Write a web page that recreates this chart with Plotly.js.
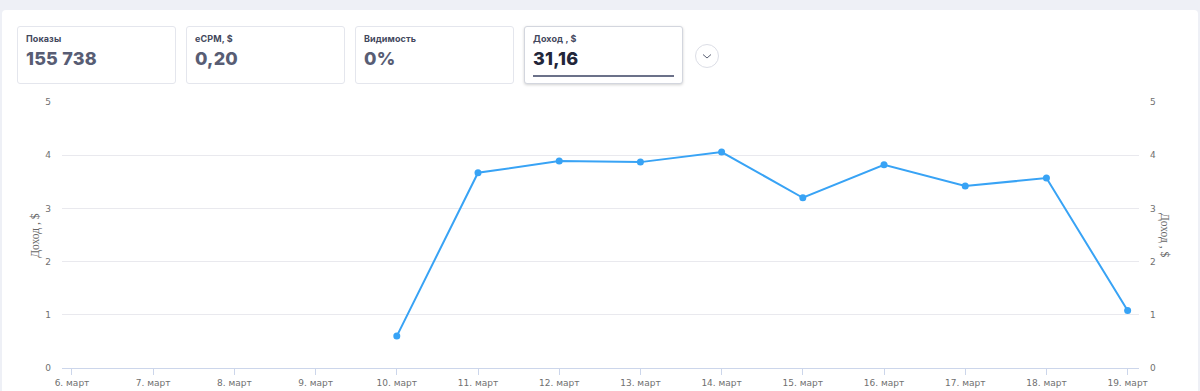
<!DOCTYPE html>
<html>
<head>
<meta charset="utf-8">
<script src="https://cdn.plot.ly/plotly-3.0.1.min.js"></script>
<style>
html,body{margin:0;padding:0;width:1200px;height:391px;overflow:hidden;background:#eef0f6;font-family:Inter,"Open Sans",sans-serif;}
#panel{position:absolute;left:2px;top:10px;width:1196px;height:400px;background:#fff;border-radius:4px;}
.card{position:absolute;top:26px;width:157px;height:56px;border:1px solid #e4e6ed;border-radius:3px;background:#fff;box-sizing:content-box;}
.card .lab{position:absolute;left:8px;top:6px;font-size:9px;font-weight:700;color:#43485d;letter-spacing:0.1px;}
.card .val{position:absolute;left:8px;top:21px;font-size:18px;font-weight:800;color:#585d74;letter-spacing:0.2px;}
.card.active{border-color:#d3d6de;box-shadow:0 1px 3px rgba(0,0,0,0.18);}
.card.active .val{color:#22263a;}
.card.active .line{position:absolute;left:8px;right:8px;top:48px;height:2px;background:#6b7189;}
#btn{position:absolute;left:695px;top:44px;width:22px;height:22px;border:1px solid #dcdee6;border-radius:50%;background:#fff;}
#plot{position:absolute;left:0;top:0;width:1200px;height:391px;}
</style>
</head>
<body>
<div id="panel"></div>
<div class="card" style="left:17px"><div class="lab">Показы</div><div class="val">155 738</div></div>
<div class="card" style="left:186px"><div class="lab">eCPM, $</div><div class="val">0,20</div></div>
<div class="card" style="left:355px"><div class="lab">Видимость</div><div class="val">0%</div></div>
<div class="card active" style="left:524px"><div class="lab">Доход , $</div><div class="val">31,16</div><div class="line"></div></div>
<div id="btn"><svg width="22" height="22" viewBox="0 0 22 22"><polyline points="7,9.5 11,13 15,9.5" fill="none" stroke="#5a6073" stroke-width="1"/></svg></div>
<div id="plot"></div>
<script>
const days = [10, 11, 12, 13, 14, 15, 16, 17, 18, 19];
const revenue = [0.60, 3.67, 3.89, 3.87, 4.06, 3.20, 3.82, 3.42, 3.57, 1.08];
const tickDays = [6, 7, 8, 9, 10, 11, 12, 13, 14, 15, 16, 17, 18, 19];
const tickLabels = tickDays.map(d => d + ". март");
const yTicks = [0, 1, 2, 3, 4, 5];
const axisTitle = "Доход , $";

const trace = {
  x: days, y: revenue, type: 'scatter', mode: 'lines+markers',
  line: {color: '#38a3f5', width: 2},
  marker: {color: '#38a3f5', size: 7},
  hoverinfo: 'skip'
};
const trace2 = {x: [days[0]], y: [revenue[0]], yaxis: 'y2', mode: 'markers', marker: {opacity: 0}, hoverinfo: 'skip', showlegend: false};

const layout = {
  width: 1200, height: 391,
  paper_bgcolor: 'rgba(0,0,0,0)', plot_bgcolor: 'rgba(0,0,0,0)',
  margin: {l: 62, r: 61, t: 102, b: 23},
  showlegend: false,
  font: {family: '"DejaVu Sans", sans-serif', size: 9, color: '#707070'},
  xaxis: {
    range: [5.877, 19.14], tickvals: tickDays, ticktext: tickLabels,
    showgrid: false, zeroline: false, showline: true, linecolor: '#ccd6eb', linewidth: 1,
    ticks: 'outside', ticklen: 6, tickcolor: '#ccd6eb', tickwidth: 1,
    tickfont: {size: 9, color: '#707070'}, fixedrange: true
  },
  yaxis: {
    range: [0, 5], tickvals: yTicks, showgrid: true, gridcolor: '#e9e9ee', gridwidth: 1,
    zeroline: false, showline: false, ticks: '', ticklabelstandoff: 10,
    tickfont: {size: 9, color: '#707070'}, fixedrange: true
  },
  yaxis2: {
    range: [0, 5], tickvals: yTicks, overlaying: 'y', side: 'right', showgrid: false,
    zeroline: false, showline: false, ticks: '', ticklabelstandoff: 10,
    tickfont: {size: 9, color: '#707070'}, fixedrange: true
  },
  annotations: [
    {text: axisTitle, xref: 'paper', yref: 'paper', x: -0.0252, y: 0.5, xanchor: 'center', yanchor: 'middle',
     textangle: -90, showarrow: false, font: {family: '"Liberation Serif", serif', size: 11.5, color: '#666666'}},
    {text: axisTitle, xref: 'paper', yref: 'paper', x: 1.0242, y: 0.5, xanchor: 'center', yanchor: 'middle',
     textangle: 90, showarrow: false, font: {family: '"Liberation Serif", serif', size: 11.5, color: '#666666'}}
  ]
};
Plotly.newPlot('plot', [trace, trace2], layout, {displayModeBar: false, staticPlot: true});
</script>
</body>
</html>
